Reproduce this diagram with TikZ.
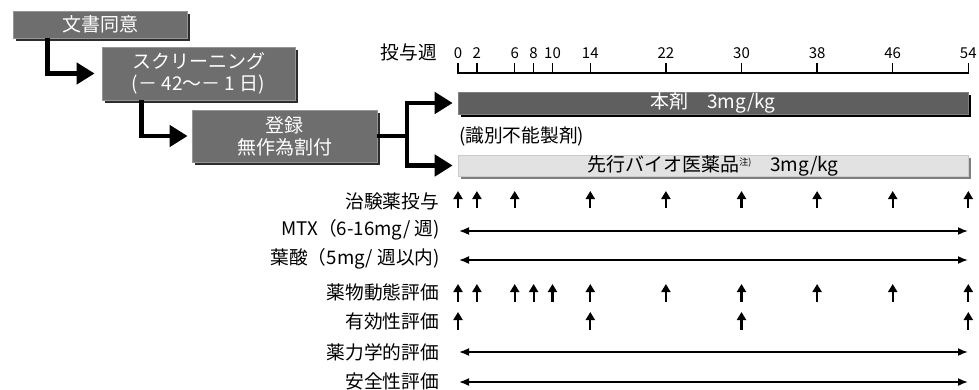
\documentclass[tikz,border=0pt]{standalone}
\usepackage{fontspec}
\setmainfont{Noto Sans CJK JP}
\usetikzlibrary{arrows.meta,shadows}
\definecolor{boxg}{RGB}{110,110,110}
\definecolor{boxsh}{RGB}{45,45,45}
\definecolor{boxedge}{RGB}{150,150,150}
\definecolor{bardark}{RGB}{95,95,95}
\definecolor{barlight}{RGB}{226,226,226}
\definecolor{barlsh}{RGB}{125,125,125}
\tikzset{
  stepbox/.style={fill=boxg, draw=boxedge, line width=0.8pt, text=white,
    font=\fontsize{19}{22}\selectfont, align=center, inner sep=0pt,
    drop shadow={shadow xshift=3pt, shadow yshift=-3pt, fill=boxsh, opacity=1}},
  darkbar/.style={fill=bardark, draw=bardark!80!white, line width=0.6pt, text=white,
    font=\fontsize{19}{22}\selectfont, inner sep=0pt,
    minimum width=510pt, minimum height=22pt,
    drop shadow={shadow xshift=3pt, shadow yshift=-3pt, fill=black, opacity=1}},
  lightbar/.style={fill=barlight, draw=barlight!90!black, line width=0.6pt, text=black,
    font=\fontsize{19}{22}\selectfont, inner sep=0pt,
    minimum width=510pt, minimum height=21pt,
    drop shadow={shadow xshift=3pt, shadow yshift=-3pt, fill=barlsh, opacity=1}},
  elbow/.style={line width=4.5pt, -{Triangle[length=18pt,width=21pt]}},
  elbowline/.style={line width=4.5pt},
  rowlabel/.style={anchor=east, inner sep=0pt, font=\fontsize{18.7}{22}\selectfont},
  ticklabel/.style={inner sep=0pt, font=\fontsize{15}{18}\selectfont},
  uparrow/.style={line width=2.2pt, -{Triangle[length=8pt,width=9pt]}},
  dblarrow/.style={line width=1.7pt, {Latex[length=10pt,width=8pt]}-{Latex[length=10pt,width=8pt]}},
}
\begin{document}
\begin{tikzpicture}[x=1pt,y=-1pt]
\useasboundingbox (0,0) rectangle (979,389);

% flow boxes
\node[stepbox, minimum width=174pt, minimum height=27pt] (b1) at (100,24.5) {文書同意};
\node[stepbox, minimum width=193pt, minimum height=53pt] (b2) at (198.5,73.5) {スクリーニング\\(－ 42～－ 1 日)};
\node[stepbox, minimum width=185pt, minimum height=52pt] (b3) at (284.5,136) {登録\\無作為割付};

% bars
\node[darkbar] (bar1) at (713,103) {本剤　3mg/kg};
\node[lightbar] (bar2) at (713,165.5) {先行バイオ医薬品\raisebox{0.55ex}{\fontsize{9}{9}\selectfont 注)}　3mg/kg};
\node[anchor=west, inner sep=0pt, font=\fontsize{18.7}{22}\selectfont] (blind) at (459,136) {(識別不能製剤)};

% elbow connectors
\coordinate (e1) at ([xshift=35pt]b1.south west);
\coordinate (e2) at ([xshift=40pt]b2.south west);
\draw[elbow] (e1) |- ([xshift=-7pt]b2.west);
\draw[elbow] (e2) |- ([xshift=-4pt]b3.west);
\coordinate (br) at (407,136);
\draw[elbowline] (b3.east) -- (br);
\draw[elbow] (br) |- ([xshift=-5pt]bar1.west);
\draw[elbow] (br) |- ([xshift=-5pt]bar2.west);

% time axis
\node[anchor=east, inner sep=0pt, font=\fontsize{18.7}{22}\selectfont] (hdr) at (437,52) {投与週};
\draw[line width=1.5pt] (458,73) -- (968.3,73);
\foreach \w in {0,2,6,8,10,14,22,30,38,46,54}{
  \draw[line width=1.5pt] ({458+9.45*\w},63) -- ({458+9.45*\w},73.7);
  \node[ticklabel] at ({458+9.45*\w},53) {\w};
}

% row labels
\node[rowlabel] (l1) at (439,201) {治験薬投与};
\node[rowlabel] (l2) at (440,230) {MTX（6-16mg/ 週)};
\node[rowlabel] (l3) at (440,259) {葉酸（5mg/ 週以内)};
\node[rowlabel] (l4) at (439,292) {薬物動態評価};
\node[rowlabel] (l5) at (439,321) {有効性評価};
\node[rowlabel] (l6) at (439,352) {薬力学的評価};
\node[rowlabel] (l7) at (439,381) {安全性評価};

% drug administration
\foreach \w in {0,2,6,14,22,30,38,46,54}{
  \draw[uparrow] ({458+9.45*\w},208) -- ({458+9.45*\w},191);
}
% PK
\foreach \w in {0,2,6,8,10,14,22,30,38,46,54}{
  \draw[uparrow] ({458+9.45*\w},302) -- ({458+9.45*\w},284);
}
% efficacy
\foreach \w in {0,14,30,54}{
  \draw[uparrow] ({458+9.45*\w},330) -- ({458+9.45*\w},312);
}

% period arrows
\draw[dblarrow] (459,231) -- (968,231);
\draw[dblarrow] (459,260) -- (968,260);
\draw[dblarrow] (459,352) -- (968,352);
\draw[dblarrow] (459,382) -- (968,382);
\end{tikzpicture}
\end{document}
